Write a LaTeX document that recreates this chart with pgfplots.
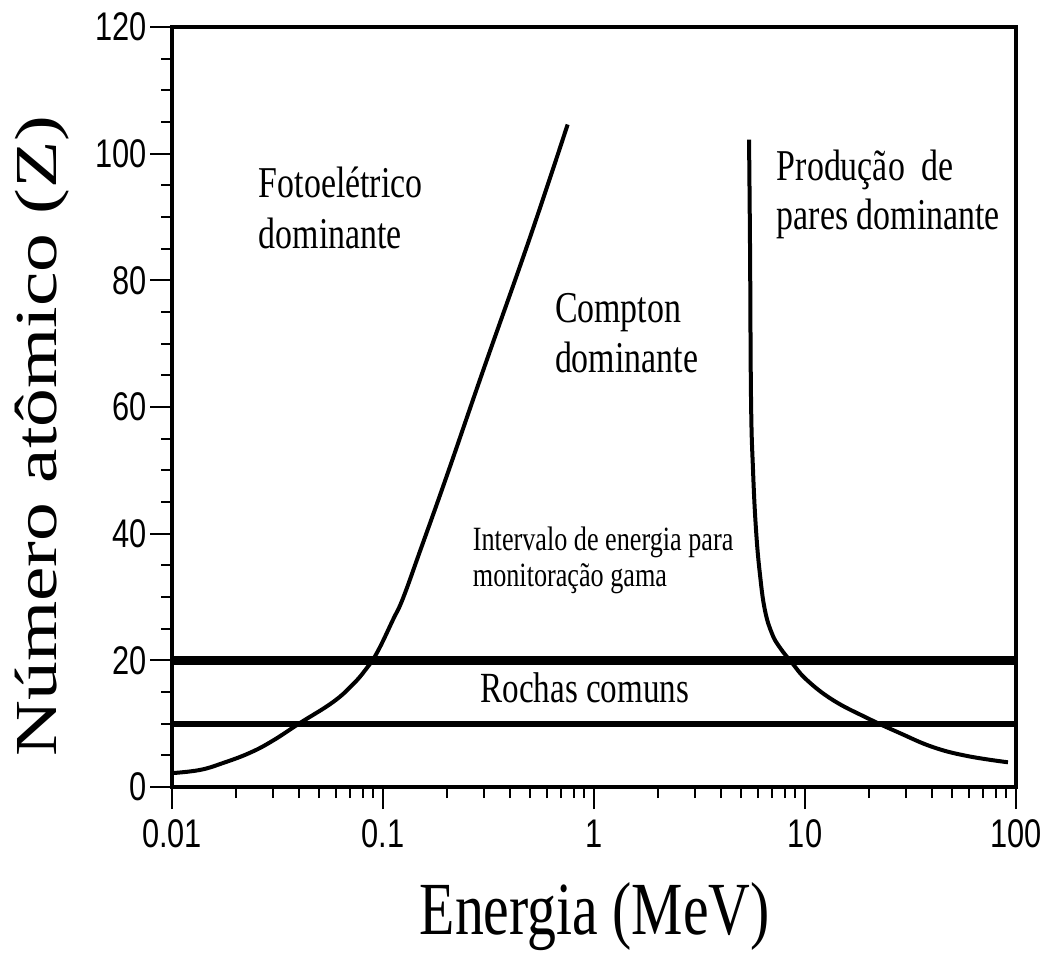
\documentclass[border=0pt]{standalone}
\usepackage{fontspec}
\usepackage{graphicx}
\setmainfont{Liberation Serif}[FakeStretch=0.77]
\newfontfamily\tickfont{Liberation Sans}[FakeStretch=0.77]
\newfontfamily\ylabfont{Liberation Serif}[FakeStretch=1.3]
\usepackage{pgfplots}
\pgfplotsset{compat=1.18}
\begin{document}
\begin{tikzpicture}
\begin{axis}[name=ax,
  scale only axis, width=422pt, height=380pt,
  xmode=log, xmin=0.01, xmax=100, ymin=0, ymax=120,
  clip=false,
  axis line style={line width=2.2pt},
  tick align=outside, xtick pos=lower, ytick pos=left,
  major tick length=11pt, minor tick length=5.5pt,
  every tick/.style={black, line width=1pt},
  xtick={0.01,0.1,1,10,100}, xticklabels={0.01,0.1,1,10,100},
  ytick={0,20,40,60,80,100,120}, yticklabels={0,20,40,60,80,100,120},
  minor ytick={5,10,15,25,30,35,45,50,55,65,70,75,85,90,95,105,110,115},
  xticklabel style={font=\tickfont\fontsize{20}{20}\selectfont, yshift=-2pt},
  yticklabel style={font=\tickfont\fontsize{20}{20}\selectfont, xshift=2pt},
  xlabel={Energia (MeV)},
  ylabel={Número atômico (Z)},
  xlabel style={font=\fontsize{37.5}{40}\selectfont, at={(axis description cs:0.501,-0.170)}, anchor=center},
  ylabel style={font=\ylabfont\fontsize{29.8}{32}\selectfont, at={(axis description cs:-0.154,0.462)}, anchor=center},
]
% Compton / photoelectric boundary
\addplot[black, line width=2pt, smooth, tension=0.7] coordinates {
(0.0101,2.2) (0.0136,2.7) (0.0175,3.8) (0.0234,5.4) (0.030,7.3) (0.0404,10.1)
(0.0579,13.4) (0.0720,16.2) (0.0830,18.6) (0.0940,21.3) (0.1115,26.4) (0.1244,29.8)
(0.15,37.3) (0.2,49.0) (0.3,66.0) (0.5,87.0) (0.75,104.6)
};
% pair production / Compton boundary
\addplot[black, line width=2pt, smooth, tension=0.7] coordinates {
(5.43,102.2) (5.49,84.8) (5.55,61.1) (5.67,50.1) (5.86,40.6) (6.12,33.5)
(6.46,27.9) (6.98,24.2) (7.61,22.0) (8.68,19.6) (10.2,16.9) (13.6,13.7)
(19.7,10.9) (28.2,8.5) (40.4,6.3) (58.6,4.9) (91.6,3.9)
};
% rock interval lines
\addplot[black, line width=4.2pt] coordinates {(0.01,20) (100,20)};
\addplot[black, line width=3pt] coordinates {(0.01,10) (100,10)};
% annotations
\node[anchor=base west, font=\fontsize{22}{24}\selectfont] at (axis cs:0.0239,93.0) {Fotoelétrico};
\node[anchor=base west, font=\fontsize{22}{24}\selectfont] at (axis cs:0.0239,85.1) {dominante};
\node[anchor=base west, font=\fontsize{22}{24}\selectfont] at (axis cs:0.605,73.4) {Compton};
\node[anchor=base west, font=\fontsize{22}{24}\selectfont] at (axis cs:0.605,65.5) {dominante};
\node[anchor=base west, font=\fontsize{22}{24}\selectfont] at (axis cs:6.82,95.8) {Produção\ \ de};
\node[anchor=base west, font=\fontsize{22}{24}\selectfont] at (axis cs:6.82,88.0) {pares dominante};
\node[anchor=base west, font=\fontsize{17}{19}\selectfont] at (axis cs:0.247,37.4) {Intervalo de energia para};
\node[anchor=base west, font=\fontsize{17}{19}\selectfont] at (axis cs:0.247,31.6) {monitoração gama};
\node[anchor=base, font=\fontsize{21.5}{24}\selectfont] at (axis cs:0.905,13.3) {Rochas comuns};
\end{axis}
\pgfresetboundingbox
\path[use as bounding box] ([xshift=-86pt,yshift=-87.5pt]ax.south west) rectangle ([xshift=15.5pt,yshift=13.5pt]ax.north east);
\end{tikzpicture}
\end{document}
